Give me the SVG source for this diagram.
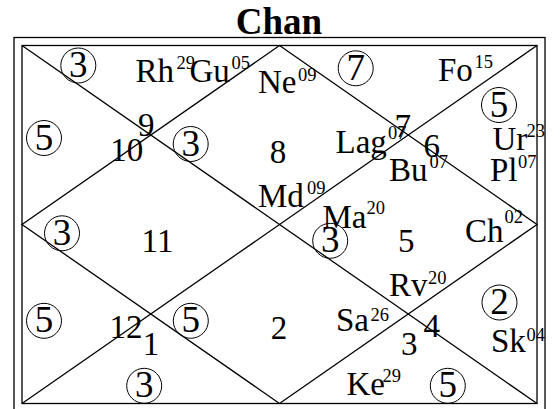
<svg xmlns="http://www.w3.org/2000/svg" width="560" height="409" viewBox="0 0 560 409" font-family="Liberation Serif, Times New Roman, DejaVu Serif, serif">
<style>
.t{font-size:37px;font-weight:bold;text-anchor:middle}
.m{font-size:33px}
.s{font-size:18.5px}
.n{font-size:33px;text-anchor:middle}
.cd{font-size:37px;text-anchor:middle}
.c{fill:none;stroke:#000;stroke-width:1}
.ln{fill:none;stroke:#000;stroke-width:1.3}
</style>
<rect width="560" height="409" fill="#fff"/>
<text class="t" x="279" y="33.5">Chan</text>
<g id="connectors">
<rect class="ln" x="14" y="37.5" width="531" height="380"/>
<rect class="ln" x="22" y="45.5" width="515" height="358"/>
<line class="ln" x1="22" y1="45.5" x2="537" y2="403.5"/>
<line class="ln" x1="537" y1="45.5" x2="22" y2="403.5"/>
<polygon class="ln" points="279.5,45.5 537,224.5 279.5,403.5 22,224.5"/>
</g>
<g id="house-top-left">
<circle class="c" cx="78.3" cy="65.5" r="17.5"/><text class="cd" x="78.3" y="77">3</text>
<text class="m" x="135.5" y="81.7">Rh</text><text class="s" x="176.5" y="69.2">29</text>
<text class="m" x="189.5" y="81.7">Gu</text><text class="s" x="231.5" y="69.2">05</text>
</g>
<g id="house-top">
<text class="m" x="258" y="92.7">Ne</text><text class="s" x="298" y="80.8">09</text>
<text class="n" x="278" y="162.7">8</text>
<circle class="c" cx="190.7" cy="144" r="17.5"/><text class="cd" x="190.7" y="155.5">3</text>
<text class="m" x="258" y="206.5">Md</text><text class="s" x="307" y="194.2">09</text>
</g>
<g id="house-top-right">
<circle class="c" cx="355.7" cy="68.3" r="17.5"/><text class="cd" x="355.7" y="79.8">7</text>
<text class="m" x="438" y="81">Fo</text><text class="s" x="474.5" y="67.5">15</text>
</g>
<g id="house-right-upper">
<circle class="c" cx="499" cy="105" r="17.5"/><text class="cd" x="499" y="116.5">5</text>
<text class="m" x="492.5" y="150">Ur</text><text class="s" x="526.5" y="136.5">23</text>
<text class="m" x="490" y="181">Pl</text><text class="s" x="518" y="167.5">07</text>
<text class="n" x="431.7" y="157.3">6</text>
</g>
<g id="house-center-right">
<text class="m" x="335.5" y="152.7">Lag</text><text class="s" x="388" y="139.2">07</text>
<text class="n" x="402.7" y="136.7">7</text>
<text class="m" x="389" y="181">Bu</text><text class="s" x="429.5" y="167.5">07</text>
<text class="m" x="322.5" y="228.3">Ma</text><text class="s" x="366.5" y="214.2">20</text>
<circle class="c" cx="330.2" cy="240.8" r="17.5"/><text class="cd" x="330.2" y="252.3">3</text>
<text class="n" x="406.3" y="251.7">5</text>
<text class="m" x="465" y="241.7">Ch</text><text class="s" x="504.5" y="223.2">02</text>
</g>
<g id="house-left-upper">
<circle class="c" cx="44" cy="138" r="17.5"/><text class="cd" x="44" y="149.5">5</text>
<text class="n" x="126.7" y="161">10</text>
<text class="n" x="146.2" y="136">9</text>
</g>
<g id="house-left">
<circle class="c" cx="62" cy="233.3" r="17.5"/><text class="cd" x="62" y="244.8">3</text>
<text class="n" x="157.5" y="251.7">11</text>
</g>
<g id="house-left-lower">
<circle class="c" cx="44" cy="320.8" r="17.5"/><text class="cd" x="44" y="332.3">5</text>
<text class="n" x="125.9" y="338.3">12</text>
<text class="n" x="150.9" y="355">1</text>
</g>
<g id="house-bottom-left">
<circle class="c" cx="144.2" cy="385.8" r="17.5"/><text class="cd" x="144.2" y="397.3">3</text>
</g>
<g id="house-bottom">
<circle class="c" cx="190.8" cy="320.8" r="17.5"/><text class="cd" x="190.8" y="332.3">5</text>
<text class="n" x="279" y="339">2</text>
<text class="m" x="389" y="296">Rv</text><text class="s" x="428" y="284.2">20</text>
<text class="m" x="336" y="331">Sa</text><text class="s" x="370.5" y="320.8">26</text>
</g>
<g id="house-bottom-right">
<text class="n" x="431.7" y="337.3">4</text>
<text class="n" x="409.2" y="355">3</text>
<text class="m" x="346.5" y="395">Ke</text><text class="s" x="382.5" y="381.8">29</text>
<circle class="c" cx="447.8" cy="385.8" r="17.5"/><text class="cd" x="447.8" y="397.3">5</text>
</g>
<g id="house-right-lower">
<circle class="c" cx="499.5" cy="302.5" r="17.5"/><text class="cd" x="499.5" y="314">2</text>
<text class="m" x="491" y="351.7">Sk</text><text class="s" x="526.5" y="340.8">04</text>
</g>
</svg>
